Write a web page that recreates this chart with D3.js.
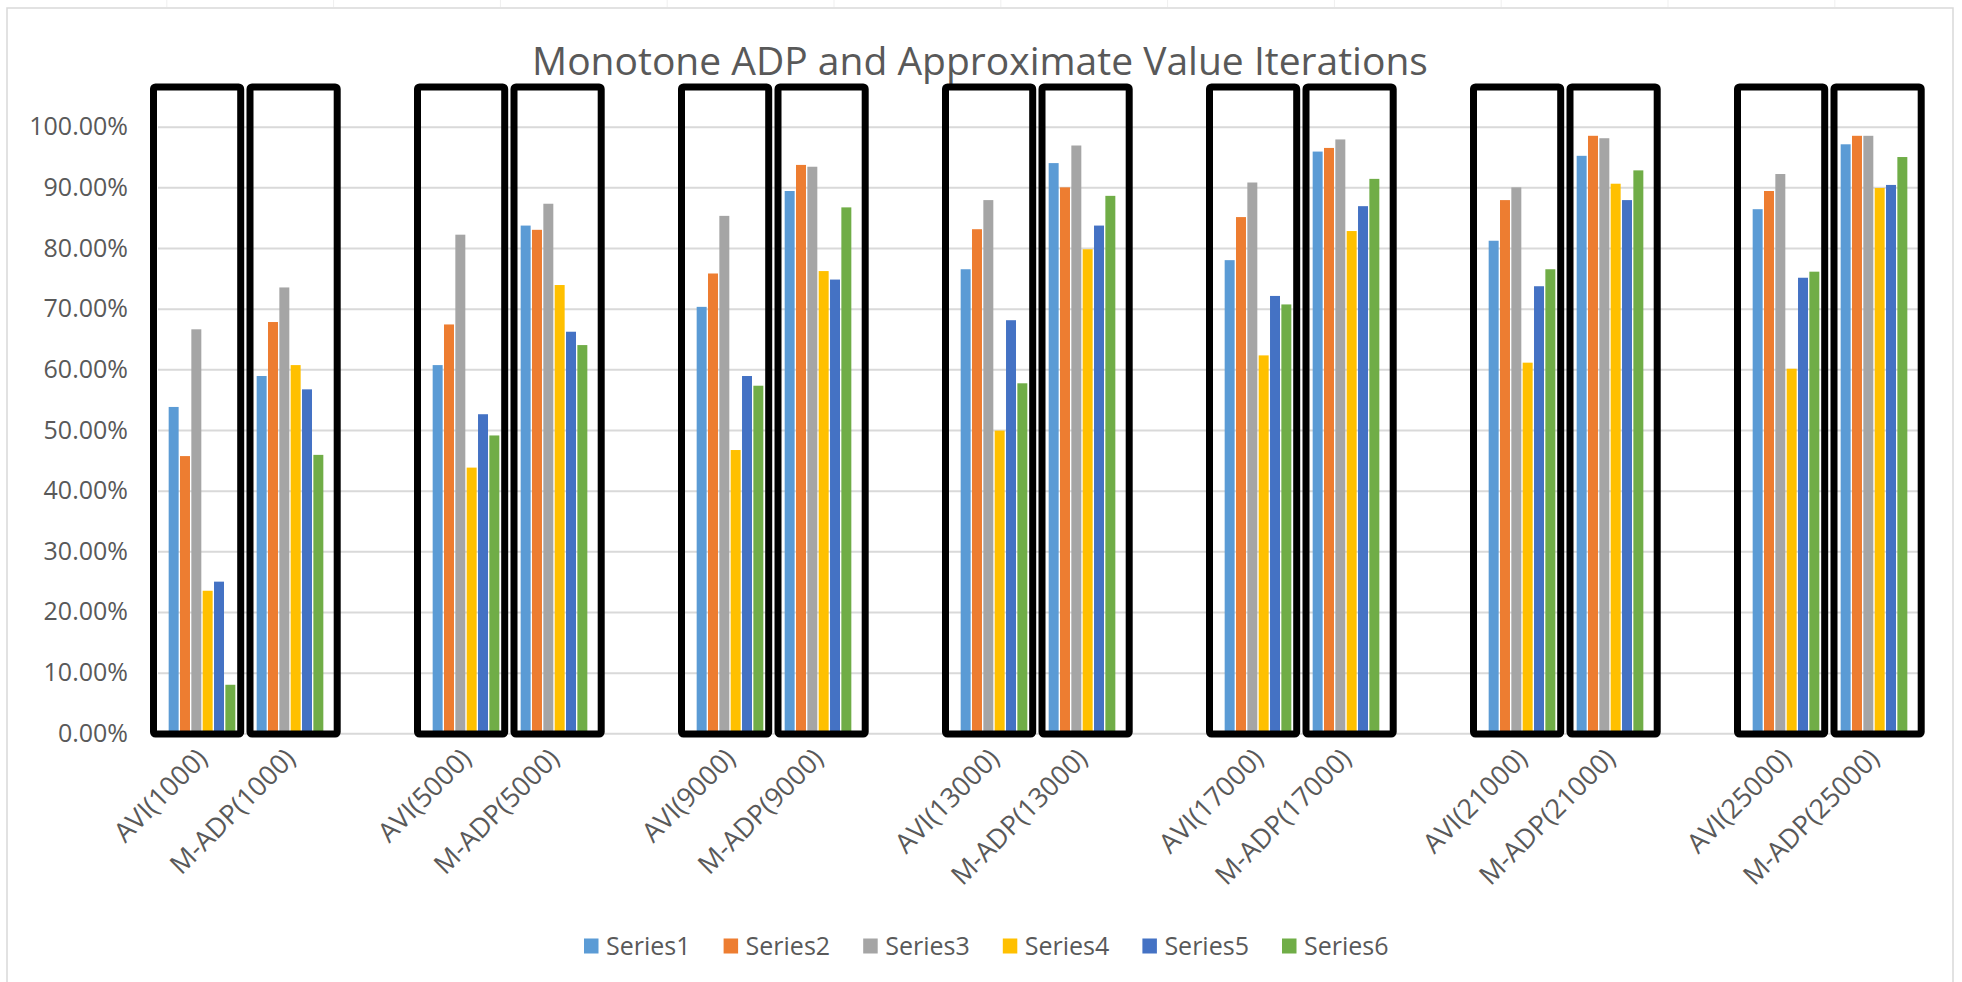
<!DOCTYPE html>
<html>
<head>
<meta charset="utf-8">
<script src="https://cdn.jsdelivr.net/npm/d3@7"></script>
<style>
  html, body { margin: 0; padding: 0; background: #ffffff; }
  svg { display: block; }
  text { font-family: "Open Sans", "Noto Sans", sans-serif; fill: #595959; }
</style>
</head>
<body>
<svg id="chart" width="1962" height="982"></svg>
<script>
// Iteration counts compared, and the two methods per count
const iterations = [1000, 5000, 9000, 13000, 17000, 21000, 25000];
const methods = ["AVI", "M-ADP"];
const categories = iterations.flatMap(n => methods.map(m => `${m}(${n})`));

// Share of optimal value reached, one array per series, ordered like `categories`
const series1 = [0.538, 0.589, 0.607, 0.837, 0.703, 0.894, 0.765, 0.940, 0.780, 0.959, 0.812, 0.952, 0.864, 0.971];
const series2 = [0.457, 0.678, 0.674, 0.830, 0.758, 0.937, 0.831, 0.900, 0.851, 0.965, 0.879, 0.985, 0.894, 0.985];
const series3 = [0.666, 0.735, 0.822, 0.873, 0.853, 0.934, 0.879, 0.969, 0.908, 0.979, 0.900, 0.981, 0.922, 0.985];
const series4 = [0.235, 0.607, 0.438, 0.739, 0.467, 0.762, 0.499, 0.798, 0.623, 0.828, 0.611, 0.906, 0.601, 0.899];
const series5 = [0.250, 0.567, 0.526, 0.662, 0.589, 0.748, 0.681, 0.837, 0.721, 0.869, 0.737, 0.879, 0.751, 0.904];
const series6 = [0.080, 0.459, 0.491, 0.640, 0.573, 0.867, 0.577, 0.886, 0.707, 0.914, 0.765, 0.928, 0.761, 0.950];

const seriesNames = ["Series1", "Series2", "Series3", "Series4", "Series5", "Series6"];
const seriesValues = [series1, series2, series3, series4, series5, series6];
const colors = ["#5B9BD5", "#ED7D31", "#A5A5A5", "#FFC000", "#4472C4", "#70AD47"];

const yTicks = [0, 0.1, 0.2, 0.3, 0.4, 0.5, 0.6, 0.7, 0.8, 0.9, 1.0];
const title = "Monotone ADP and Approximate Value Iterations";

// Layout
const W = 1962, H = 982;
const plot = { left: 158, right: 1918, top: 126.7, bottom: 733.3 };

// Each iteration count gets two slots plus an empty spacer slot between pairs
const slotCount = iterations.length * 3 - 1;
const slotOf = i => Math.floor(i / 2) * 3 + (i % 2);

const svg = d3.select("#chart");

// Chart area frame and the faint sheet column lines above it
svg.append("rect")
  .attr("x", 7).attr("y", 8).attr("width", 1946).attr("height", 990)
  .attr("fill", "#ffffff").attr("stroke", "#d9d9d9").attr("stroke-width", 1.5);
svg.append("g").selectAll("line")
  .data(d3.range(1, 12))
  .join("line")
  .attr("x1", d => d * 166.8).attr("x2", d => d * 166.8)
  .attr("y1", 0).attr("y2", 7)
  .attr("stroke", "#efefef").attr("stroke-width", 1);

const x = d3.scaleBand()
  .domain(d3.range(slotCount))
  .range([plot.left, plot.right])
  .paddingInner(0).paddingOuter(0);

const bw = x.bandwidth();
const clusterGap = bw * 0.227;
const xs = d3.scaleBand()
  .domain(seriesNames)
  .range([clusterGap / 2, bw - clusterGap / 2])
  .paddingInner(0.12).paddingOuter(0.06);

const y = d3.scaleLinear().domain([0, 1]).range([plot.bottom, plot.top]);

// Horizontal gridlines and y tick labels
const yAxis = d3.axisLeft(y)
  .tickValues(yTicks)
  .tickFormat(d3.format(".2%"))
  .tickSize(-(plot.right - plot.left))
  .tickPadding(30);

const yg = svg.append("g")
  .attr("transform", `translate(${plot.left},0)`)
  .call(yAxis);
yg.select(".domain").remove();
yg.selectAll(".tick line").attr("stroke", "#d9d9d9").attr("stroke-width", 2);
yg.selectAll(".tick text")
  .attr("font-size", 25)
  .attr("fill", "#595959")
  .style("font-family", "'Open Sans', 'Noto Sans', sans-serif");

// Title
svg.append("text")
  .attr("x", 980).attr("y", 75)
  .attr("text-anchor", "middle")
  .attr("font-size", 39)
  .attr("fill", "#595959")
  .text(title);

// Bars
const groups = svg.append("g").selectAll("g")
  .data(categories)
  .join("g")
  .attr("transform", (d, i) => `translate(${x(slotOf(i))},0)`);

groups.selectAll("rect")
  .data((d, i) => seriesNames.map((s, k) => ({ s, k, v: seriesValues[k][i] })))
  .join("rect")
  .attr("x", d => xs(d.s))
  .attr("width", xs.bandwidth())
  .attr("y", d => y(d.v))
  .attr("height", d => y(0) - y(d.v))
  .attr("fill", d => colors[d.k]);

// Category labels, rotated
svg.append("g").selectAll("text")
  .data(categories)
  .join("text")
  .attr("transform", (d, i) => `translate(${x(slotOf(i)) + bw / 2 + 7},760) rotate(-45)`)
  .attr("text-anchor", "end")
  .attr("font-size", 27)
  .attr("fill", "#595959")
  .text(d => d);

// Black outline around each method's cluster
svg.append("g").selectAll("rect")
  .data(categories)
  .join("rect")
  .attr("x", (d, i) => x(slotOf(i)) + (i % 2 === 0 ? -4.5 : 4.0))
  .attr("y", 87)
  .attr("width", bw - 0.8)
  .attr("height", y(0) + 0.7 - 87)
  .attr("rx", 2)
  .attr("fill", "none")
  .attr("stroke", "#000000")
  .attr("stroke-width", 7)
  .attr("stroke-linejoin", "round");

// Legend
const legend = svg.append("g").attr("transform", "translate(584,946)");
const items = legend.selectAll("g")
  .data(seriesNames)
  .join("g")
  .attr("transform", (d, k) => `translate(${k * 139.6},0)`);
items.append("rect")
  .attr("x", 0).attr("y", -7.5).attr("width", 14.5).attr("height", 15)
  .attr("fill", (d, k) => colors[k]);
items.append("text")
  .attr("x", 22).attr("y", 9)
  .attr("font-size", 25)
  .attr("fill", "#595959")
  .text(d => d);
</script>
</body>
</html>
